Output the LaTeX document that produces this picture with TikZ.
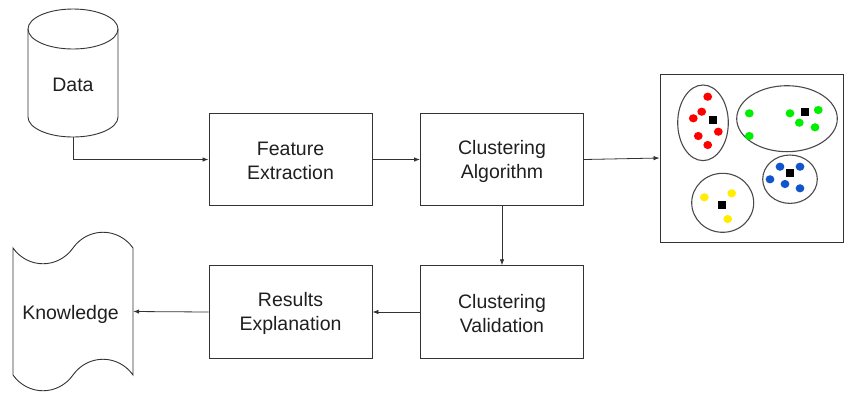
\documentclass[tikz,border=0pt]{standalone}
\usepackage{fontspec}
\setmainfont{Liberation Sans}
\usetikzlibrary{arrows.meta}

\definecolor{ink}{HTML}{333333}
\definecolor{hullgray}{HTML}{4A4A4A}
\definecolor{ptred}{HTML}{FF0000}
\definecolor{ptgreen}{HTML}{00EE00}
\definecolor{ptblue}{HTML}{1155CC}
\definecolor{ptyellow}{HTML}{FFEE00}

\begin{document}
\begin{tikzpicture}[x=1pt,y=-1pt,
  lbl/.style={font=\fontsize{19.5}{24}\selectfont, text=black!88, align=center},
  stage/.style={draw=ink, line width=0.9pt, minimum width=163pt,
    minimum height=92.5pt, inner sep=0pt,
    label={[lbl, yshift=-1.5pt]center:#1}},
  shell/.style={inner sep=0pt},
  outline/.style={draw=ink, line width=0.9pt},
  flow/.style={draw=ink, line width=0.8pt, -{Latex[length=6pt,width=4.5pt]}},
  hull/.style={draw=hullgray, line width=1.1pt},
]
\path[use as bounding box] (0,0) rectangle (845,392);

% ---- data store (cylinder) ----
\node[shell, minimum width=90pt, minimum height=128pt] (data) at (73,73) {};
\draw[outline] (73,29) ellipse [x radius=45, y radius=20];
\draw[outline] (28,29) -- (28,117)
  .. controls (28,128) and (48.1,137) .. (73,137)
  .. controls (97.9,137) and (118,128) .. (118,117) -- (118,29);
\node[lbl] (datalbl) at (73,84.5) {Data};

% ---- processing stages ----
\node[stage={Feature\\Extraction}] (fe) at (290.5,159.5) {};
\node[stage={Clustering\\Algorithm}] (ca) at (502,159.5) {};
\node[stage={Clustering\\Validation}] (cv) at (502,312) {};
\node[stage={Results\\Explanation}] (re) at (290.5,312) {};

% ---- clustering result panel ----
\node[draw=ink, line width=0.9pt, minimum width=183pt, minimum height=168pt,
  inner sep=0pt] (panel) at (751.5,158) {};

\draw[hull] (703,122.8) ellipse [x radius=25.3, y radius=37.8];
\draw[hull] (787,118.7) ellipse [x radius=50.3, y radius=33];
\draw[hull] (790,179.2) ellipse [x radius=27.3, y radius=24.2];
\draw[hull] (722.7,202.8) ellipse [x radius=31, y radius=29.5];

\foreach \px/\py in {707.7/96.7, 701.7/111.7, 693.3/118.3, 718.3/131.7,
                     698.3/136, 707.7/145}
  \fill[ptred] (\px,\py) ellipse [x radius=4.4, y radius=4.1];
\foreach \px/\py in {749.3/113.3, 749.3/136, 790/113.3, 799.3/122.7,
                     818.3/110, 815/127.3}
  \fill[ptgreen] (\px,\py) ellipse [x radius=4.4, y radius=4.1];
\foreach \px/\py in {780/166.7, 800/166.7, 770/179.3, 785/184, 800/188.3}
  \fill[ptblue] (\px,\py) ellipse [x radius=4.4, y radius=4.1];
\foreach \px/\py in {704.3/197.3, 731.7/193.3, 727.7/219}
  \fill[ptyellow] (\px,\py) ellipse [x radius=4.4, y radius=4.1];

% cluster centres
\foreach \px/\py in {713.3/120, 804.7/111.7, 790/173.3, 721.7/205}
  \fill[black] (\px-4,\py-4) rectangle (\px+4,\py+4);

% ---- knowledge (tape) ----
\node[shell, minimum width=120pt, minimum height=127pt] (know) at (73,311.5) {};
\draw[outline] (13,248)
  .. controls (28,269) and (58,269) .. (73,248)
  .. controls (88,227) and (118,227) .. (133,248)
  -- (133,375)
  .. controls (118,354) and (88,354) .. (73,375)
  .. controls (58,396) and (28,396) .. (13,375) -- cycle;
\node[lbl] (knowlbl) at (70.5,314) {Knowledge};

% ---- connectors ----
\draw[flow] (data.south) |- (fe.west);
\draw[flow] (fe.east) -- (ca.west);
\draw[flow] (ca.east) -- (panel.west);
\draw[flow] (ca.south) -- (cv.north);
\draw[flow] (cv.west) -- (re.east);
\draw[flow] (re.west) -- (know.east);
\end{tikzpicture}
\end{document}
